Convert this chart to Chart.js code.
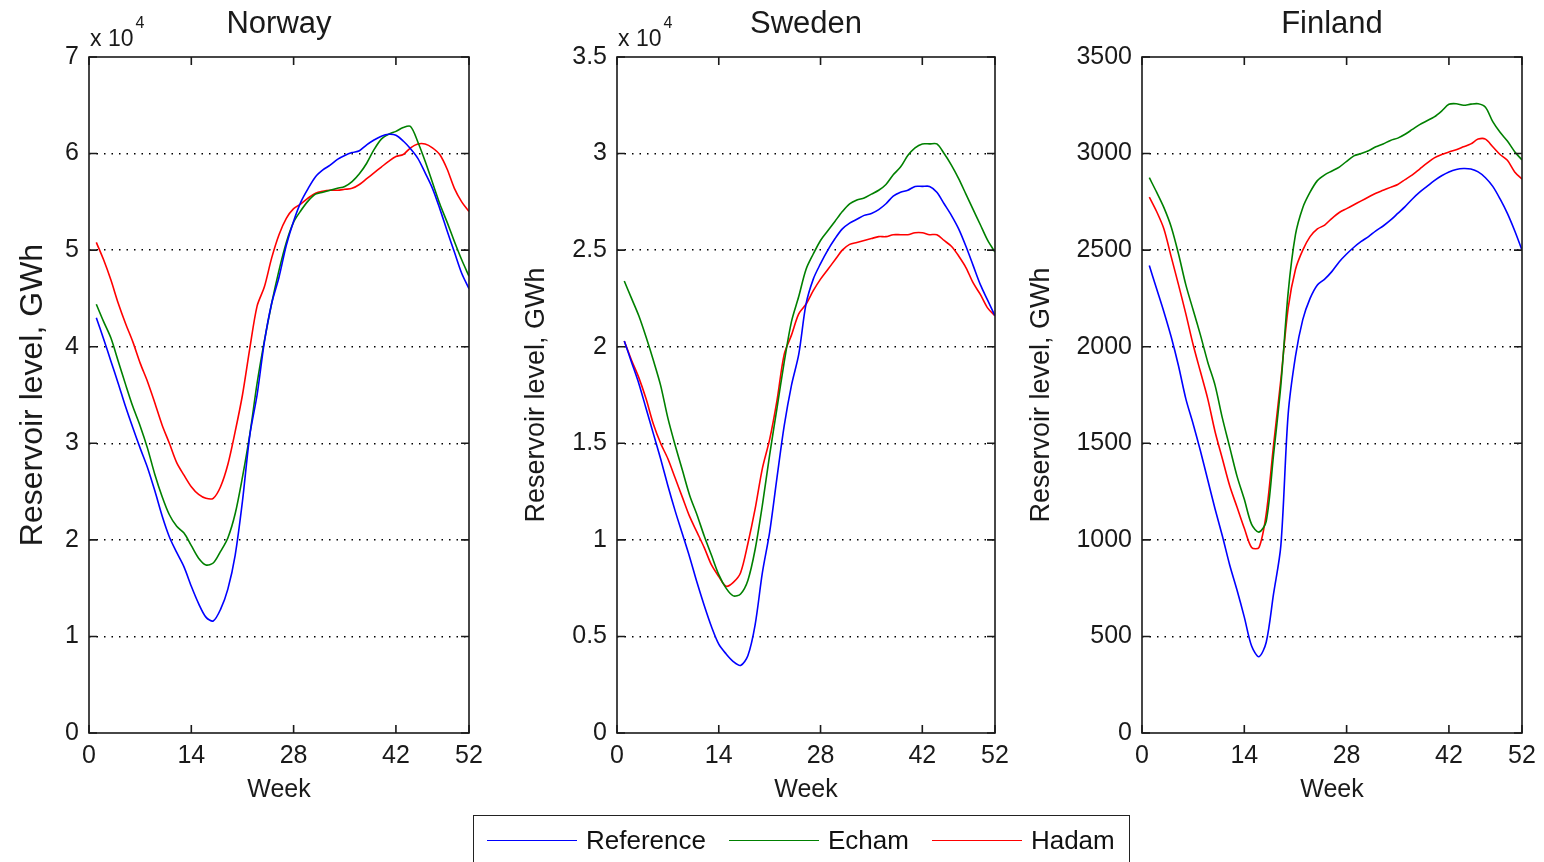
<!DOCTYPE html>
<html>
<head>
<meta charset="utf-8">
<script src="https://cdn.jsdelivr.net/npm/chart.js@4/dist/chart.umd.min.js"></script>
<style>
  body { margin: 0; background: #fff; width: 1544px; height: 862px; overflow: hidden; position: relative;
         font-family: "Liberation Sans", Arial, sans-serif; }
  .panel { position: absolute; top: 0; height: 862px; }
  #legend { position: absolute; left: 473px; top: 815px; width: 657px; height: 60px; box-sizing: border-box;
            border: 1.5px solid #222; display: flex; align-items: center; padding: 0 0 10px 13px; color: #111; font-size: 26px; }
  #legend .item { display: flex; align-items: center; margin-right: 23px; }
  #legend .swatch { width: 90px; height: 0; border-top: 1.6px solid; margin-right: 9px; }
</style>
</head>
<body>
<div class="panel" style="left:0;width:500px"><canvas id="norway"></canvas></div>
<div class="panel" style="left:500px;width:520px"><canvas id="sweden"></canvas></div>
<div class="panel" style="left:1020px;width:524px"><canvas id="finland"></canvas></div>
<div id="legend"></div>
<script>
const weeks = [1,2,3,4,5,6,7,8,9,10,11,12,13,14,15,16,17,18,19,20,21,22,23,24,25,26,
  27,28,29,30,31,32,33,34,35,36,37,38,39,40,41,42,43,44,45,46,47,48,49,50,51,52];
const xTicks = [0, 14, 28, 42, 52];
const seriesNames = ["Reference", "Echam", "Hadam"];
const seriesColors = ["#0000ff", "#008000", "#ff0000"];

// Norway, GWh
const norwayRef = [43000,40800,38500,36200,33800,31600,29500,27500,25100,22500,20300,18700,17200,15200,13400,12000,
  11600,12800,14900,18400,24000,30800,35000,40500,44500,47200,50500,53000,55000,56400,57600,58300,58800,59400,
  59800,60100,60300,60900,61400,61800,62000,61900,61300,60500,59500,58000,56400,54300,52000,49800,47600,46000];
const norwayEcham = [44400,42600,40900,38500,36100,33800,31800,29500,26800,24500,22600,21400,20700,19400,18100,17400,
  17600,18800,20200,22700,26500,30900,36200,40600,44500,47900,50800,52900,54100,55100,55800,56000,56200,56400,
  56600,57100,57900,59000,60400,61500,62000,62300,62700,62800,61200,59200,57000,54800,52900,50900,49000,47300];
const norwayHadam = [50800,49000,46900,44500,42400,40500,38300,36400,34200,31900,30000,28000,26700,25500,24700,24300,
  24300,25500,27800,31200,35000,39800,44200,46200,49200,51600,53300,54300,54800,55400,55900,56100,56200,56200,
  56300,56400,56800,57400,58000,58600,59200,59700,59900,60600,61000,61000,60600,59900,58400,56400,55000,54000];

// Sweden, GWh
const swedenRef = [20300,19200,18100,16800,15500,14200,12800,11500,10300,9100,7800,6600,5500,4600,4100,3700,
  3500,4000,5600,8300,10400,13200,15900,18000,19600,22200,23500,24300,25000,25600,26100,26400,26600,26800,
  26900,27100,27400,27800,28000,28100,28300,28300,28300,28000,27400,26800,26100,25200,24200,23200,22400,21600];
const swedenEcham = [23400,22500,21600,20500,19300,18000,16300,14900,13600,12300,11300,10200,9200,8200,7500,7100,
  7200,7900,9500,11800,14400,16800,19200,21300,22600,24000,24800,25500,26000,26500,27000,27400,27600,27700,
  27900,28100,28400,28900,29300,29900,30300,30500,30500,30500,30000,29400,28700,27900,27100,26300,25500,24900];
const swedenHadam = [20300,19300,18400,17300,16000,15000,14200,13200,12200,11200,10400,9600,8700,8100,7600,7800,
  8300,9800,11600,13700,15200,17200,19600,20600,21700,22200,22900,23500,24000,24500,25000,25300,25400,25500,
  25600,25700,25700,25800,25800,25800,25900,25900,25800,25800,25500,25200,24700,24100,23300,22700,22000,21600];

// Finland, GWh
const finlandRef = [2420,2300,2180,2050,1900,1730,1600,1460,1310,1160,1020,870,740,600,450,395,
  470,720,970,1650,1950,2140,2250,2320,2350,2390,2440,2480,2515,2545,2570,2600,2625,2655,
  2690,2725,2765,2800,2830,2860,2885,2905,2918,2923,2920,2905,2875,2830,2765,2690,2600,2500];
const finlandEcham = [2875,2800,2720,2620,2480,2320,2190,2060,1920,1800,1630,1480,1330,1210,1080,1040,
  1096,1440,1800,2280,2580,2720,2800,2860,2890,2910,2930,2960,2988,3000,3015,3035,3050,3068,
  3080,3100,3125,3150,3170,3190,3220,3255,3258,3250,3256,3258,3240,3165,3110,3065,3010,2967];
const finlandHadam = [2775,2700,2610,2465,2320,2170,2010,1870,1730,1560,1420,1280,1170,1060,960,960,
  1135,1490,1830,2200,2400,2500,2570,2610,2630,2665,2695,2715,2735,2755,2775,2795,2810,2825,
  2840,2865,2890,2920,2950,2978,2995,3008,3020,3035,3050,3075,3075,3035,2995,2965,2905,2868];

const FONT = '"Liberation Sans", Arial, sans-serif';
const INK = '#1a1a1a';

// MATLAB-like box with inward ticks and the "x 10^n" multiplier
const framePlugin = {
  id: 'frame',
  afterDatasetsDraw(chart, args, opts) {
    const {ctx, chartArea: a, scales: {x, y}} = chart;
    ctx.save();
    ctx.strokeStyle = INK;
    ctx.lineWidth = 1.6;
    ctx.strokeRect(a.left, a.top, a.right - a.left, a.bottom - a.top);
    ctx.beginPath();
    x.ticks.forEach(t => {
      const px = x.getPixelForValue(t.value);
      ctx.moveTo(px, a.bottom); ctx.lineTo(px, a.bottom - 8);
      ctx.moveTo(px, a.top); ctx.lineTo(px, a.top + 8);
    });
    y.ticks.forEach(t => {
      const py = y.getPixelForValue(t.value);
      ctx.moveTo(a.left, py); ctx.lineTo(a.left + 8, py);
      ctx.moveTo(a.right, py); ctx.lineTo(a.right - 8, py);
    });
    ctx.stroke();
    if (opts.exponent) {
      ctx.fillStyle = INK;
      ctx.textBaseline = 'alphabetic';
      ctx.textAlign = 'left';
      ctx.font = '23px ' + FONT;
      const base = 'x 10';
      ctx.fillText(base, a.left + 1, a.top - 11);
      const w = ctx.measureText(base).width;
      ctx.font = '16px ' + FONT;
      ctx.fillText(opts.exponent, a.left + 3 + w, a.top - 29);
    }
    ctx.restore();
  }
};

function makeChart(id, title, values, cfg) {
  const datasets = values.map((vals, i) => ({
    label: seriesNames[i],
    data: weeks.map((w, j) => ({x: w, y: vals[j]})),
    borderColor: seriesColors[i],
    borderWidth: 1.6,
    pointRadius: 0,
    tension: 0.3,
    fill: false
  }));
  new Chart(document.getElementById(id), {
    type: 'line',
    data: {datasets},
    plugins: [framePlugin],
    options: {
      responsive: true,
      maintainAspectRatio: false,
      animation: false,
      events: [],
      layout: {padding: {left: 0, right: cfg.padRight, top: 0, bottom: 57}},
      plugins: {
        legend: {display: false},
        tooltip: {enabled: false},
        title: {
          display: true, text: title, fullSize: false, color: INK,
          font: {family: FONT, size: 31, weight: 'normal'},
          padding: {top: 6, bottom: 13.8}
        },
        frame: {exponent: cfg.exponent}
      },
      scales: {
        x: {
          type: 'linear', min: 0, max: 52,
          afterBuildTicks: s => { s.ticks = xTicks.map(v => ({value: v})); },
          afterFit: s => { s.height = 72; },
          grid: {display: false, drawTicks: false},
          border: {display: false},
          ticks: {color: INK, padding: 8, font: {family: FONT, size: 25}, maxRotation: 0, autoSkip: false},
          title: {display: true, text: 'Week', color: INK, font: {family: FONT, size: 25},
                  padding: {top: 0, bottom: 0}}
        },
        y: {
          min: 0, max: cfg.max,
          afterFit: s => { s.width = cfg.axisWidth; },
          grid: {
            drawTicks: false, lineWidth: 1.4,
            color: c => (c.tick.value === 0 || c.tick.value === cfg.max) ? 'rgba(0,0,0,0)' : '#000'
          },
          border: {display: false, dash: [1.5, 6]},
          ticks: {stepSize: cfg.step, color: INK, padding: 10, font: {family: FONT, size: 25},
                  callback: v => String(v / cfg.div)},
          title: {display: true, text: 'Reservoir level, GWh', color: INK,
                  font: {family: FONT, size: cfg.titleSize}, padding: {top: cfg.titlePad, bottom: 0}}
        }
      }
    }
  });
}

makeChart('norway', 'Norway', [norwayRef, norwayEcham, norwayHadam],
  {max: 70000, step: 10000, div: 10000, exponent: '4', axisWidth: 89, padRight: 31, titleSize: 32, titlePad: 13.8});
makeChart('sweden', 'Sweden', [swedenRef, swedenEcham, swedenHadam],
  {max: 35000, step: 5000, div: 10000, exponent: '4', axisWidth: 117, padRight: 25, titleSize: 27, titlePad: 20.8});
makeChart('finland', 'Finland', [finlandRef, finlandEcham, finlandHadam],
  {max: 3500, step: 500, div: 1, exponent: null, axisWidth: 122, padRight: 22, titleSize: 27, titlePad: 5.8});

const legend = document.getElementById('legend');
seriesNames.forEach((name, i) => {
  const item = document.createElement('div');
  item.className = 'item';
  const sw = document.createElement('span');
  sw.className = 'swatch';
  sw.style.borderTopColor = seriesColors[i];
  const label = document.createElement('span');
  label.textContent = name;
  item.appendChild(sw);
  item.appendChild(label);
  legend.appendChild(item);
});
</script>
</body>
</html>
